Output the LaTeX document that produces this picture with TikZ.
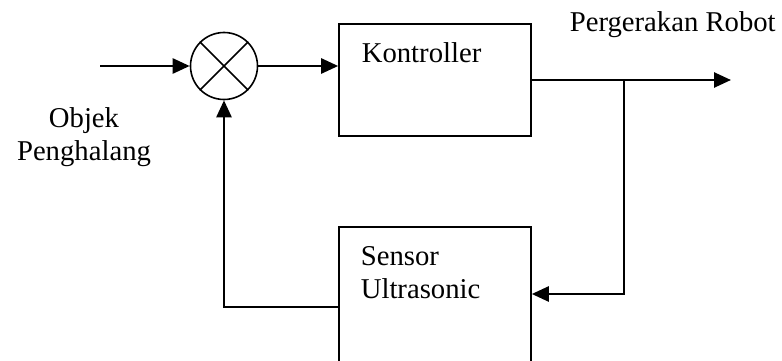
\documentclass[tikz,border=0pt]{standalone}
\usepackage{fontspec}
\setmainfont{Liberation Serif}
\usetikzlibrary{arrows.meta,positioning}

\begin{document}
\begin{tikzpicture}[x=1pt,y=-1pt,line width=1.6pt,
  block/.style={draw,minimum width=192pt,minimum height=112pt,inner sep=0pt},
  lbl/.style={font=\fontsize{28.7}{33}\selectfont,inner sep=0pt,align=left},
  sig/.style={line width=2.6pt,-{Triangle[length=17pt,width=15pt]}}]
\useasboundingbox (0,0) rectangle (782,361);
\clip (0,0) rectangle (782,361);
% blocks
\node[circle,draw,minimum size=67pt,inner sep=0pt] (sum) at (224,66) {};
\draw (sum.north west) -- (sum.south east) (sum.north east) -- (sum.south west);
\node[block] (ctrl) at (435,80) {};
\node[block,minimum height=140pt] (sens) at (435,297) {};
% labels
\node[lbl,anchor=base west] (ctrltxt) at (361,63) {Kontroller};
\node[lbl,anchor=north west] (senstxt) at (360,246) {Sensor\\Ultrasonic};
\node[lbl,align=center,anchor=north] (obj) at (84,107) {Objek\\Penghalang};
\node[lbl,anchor=base west] (outtxt) at (569,32) {Pergerakan Robot};
% signals
\coordinate (in) at (100,66);
\coordinate (out) at (731,80);
\coordinate (br) at (624,80);
\draw[sig] (in) -- (sum);
\draw[sig] (sum.east) -- (sum.east -| ctrl.west);
\draw[sig] (ctrl.east) -- (out);
\draw[sig] (br) |- ([yshift=3pt]sens.east);
\draw[sig] ([yshift=-10pt]sens.west) -| (sum.south);
\end{tikzpicture}
\end{document}
